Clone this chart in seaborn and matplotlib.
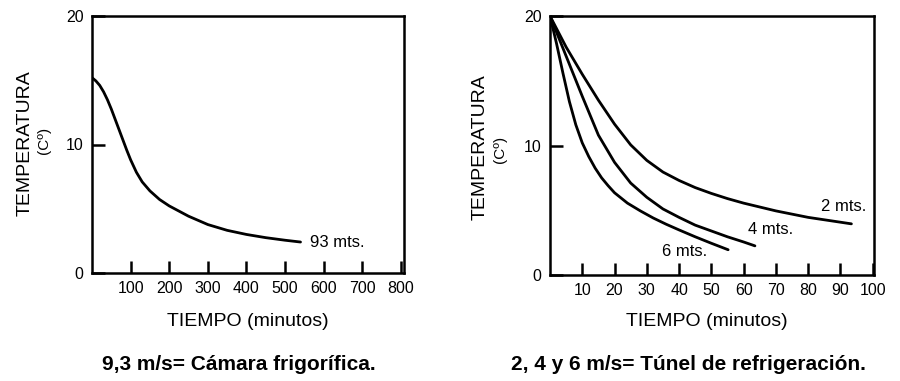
import matplotlib
matplotlib.use("Agg")
import matplotlib.pyplot as plt
import seaborn as sns
import pandas as pd

# left panel: camara frigorifica (9,3 m/s)
camara_t = [0, 10, 20, 30, 40, 50, 60, 70, 80, 90, 100, 115, 130, 150, 175, 200,
            250, 300, 350, 400, 450, 500, 540]
camara_temp = [15.2, 14.95, 14.6, 14.1, 13.48, 12.76, 11.96, 11.16, 10.36, 9.56, 8.81,
               7.84, 7.09, 6.39, 5.72, 5.22, 4.42, 3.77, 3.32, 3.0, 2.75, 2.55, 2.41]

# right panel: tunel de refrigeracion (2, 4, 6 m/s)
t_2m = [0, 5, 10, 15, 20, 25, 30, 35, 40, 45, 50, 55, 60, 70, 80, 93.4]
temp_2m = [20, 17.6, 15.5, 13.5, 11.65, 10.05, 8.85, 7.95, 7.3, 6.75, 6.3, 5.9, 5.55,
           4.95, 4.45, 3.95]
t_4m = [0, 5, 10, 15, 20, 25, 30, 35, 40, 45, 50, 55, 60, 63.5]
temp_4m = [20, 16.9, 13.8, 10.8, 8.7, 7.1, 6.0, 5.1, 4.45, 3.85, 3.4, 2.95, 2.55, 2.25]
t_6m = [0, 2, 4, 6, 8, 10, 12, 14, 16, 18, 20, 24, 28, 32, 36, 40, 45, 50, 55.2]
temp_6m = [20, 17.9, 15.6, 13.4, 11.6, 10.2, 9.15, 8.25, 7.5, 6.9, 6.35, 5.55, 4.95,
           4.4, 3.92, 3.48, 2.95, 2.45, 1.95]

left_ticks = [100, 200, 300, 400, 500, 600, 700, 800]
right_ticks = [10, 20, 30, 40, 50, 60, 70, 80, 90, 100]
y_ticks = [0, 10, 20]

curve_labels = ["2 mts.", "4 mts.", "6 mts."]
label_pos = [(84.1, 5.3), (61.3, 3.5), (34.6, 1.8)]

sns.set_style("ticks")
plt.rcParams["font.family"] = ["Liberation Sans", "DejaVu Sans"]
plt.rcParams["text.color"] = "black"
plt.rcParams["xtick.color"] = "black"
plt.rcParams["ytick.color"] = "black"

fig = plt.figure(figsize=(9, 3.81), dpi=100)
ax1 = fig.add_axes([92 / 900, 108 / 381, 312 / 900, 257 / 381])
ax2 = fig.add_axes([550 / 900, 106 / 381, 324 / 900, 259 / 381])

df_left = pd.DataFrame({"t": camara_t, "temp": camara_temp})
sns.lineplot(data=df_left, x="t", y="temp", ax=ax1, color="black", lw=2.0)
ax1.text(565, 2.4, "93 mts.", fontsize=12, ha="left", va="center")

series = [(t_2m, temp_2m), (t_4m, temp_4m), (t_6m, temp_6m)]
for (tt, yy), lab, pos in zip(series, curve_labels, label_pos):
    sns.lineplot(x=tt, y=yy, ax=ax2, color="black", lw=2.0)
    ax2.text(pos[0], pos[1], lab, fontsize=12, ha="left", va="center")

ax1.set_xlim(0, 808)
ax1.set_xticks(left_ticks)
ax2.set_xlim(0, 100.4)
ax2.set_xticks(right_ticks)

for ax in (ax1, ax2):
    ax.set_ylim(0, 20)
    ax.set_yticks(y_ticks)
    ax.set_xlabel("")
    ax.set_ylabel("")
    ax.tick_params(direction="in", length=9, width=1.8, labelsize=11.5, pad=6,
                   color="black", labelcolor="black")
    for sp in ax.spines.values():
        sp.set_visible(True)
        sp.set_linewidth(1.8)
        sp.set_color("black")

# axis titles
fig.text(25 / 900, 1 - 143 / 381, "TEMPERATURA", rotation=90, ha="center", va="center", fontsize=14)
fig.text(44 / 900, 1 - 140 / 381, "(Cº)", rotation=90, ha="center", va="center", fontsize=11)
fig.text(480 / 900, 1 - 147 / 381, "TEMPERATURA", rotation=90, ha="center", va="center", fontsize=14)
fig.text(500 / 900, 1 - 149 / 381, "(Cº)", rotation=90, ha="center", va="center", fontsize=11)

fig.text(248 / 900, 1 - 322 / 381, "TIEMPO (minutos)", ha="center", va="center", fontsize=14)
fig.text(707 / 900, 1 - 322 / 381, "TIEMPO (minutos)", ha="center", va="center", fontsize=14)

fig.text(239 / 900, 1 - 364 / 381, "9,3 m/s= Cámara frigorífica.", ha="center", va="center",
         fontsize=15, fontweight="bold")
fig.text(688 / 900, 1 - 364 / 381, "2, 4 y 6 m/s= Túnel de refrigeración.", ha="center", va="center",
         fontsize=15, fontweight="bold")

fig.savefig("out.png", dpi=100, facecolor="white")
